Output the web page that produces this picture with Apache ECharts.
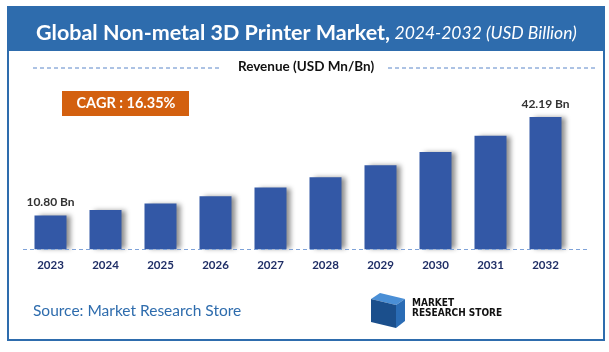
<!DOCTYPE html>
<html>
<head>
<meta charset="utf-8">
<script src="https://cdn.jsdelivr.net/npm/echarts@6/dist/echarts.min.js"></script>
<style>
  html, body { margin: 0; padding: 0; background: #fff; }
  #main { width: 609px; height: 352px; }
</style>
</head>
<body>
<div id="main"></div>
<script>
var years = ['2023', '2024', '2025', '2026', '2027', '2028', '2029', '2030', '2031', '2032'];
var revenue = [10.80, 12.57, 14.60, 16.95, 19.70, 23.00, 26.80, 31.05, 36.20, 42.19];
var labelled = [0, 9];

(function () {
    // 柱状图
    var chartDom = document.getElementById('main');
    var myChart = echarts.init(chartDom);
    var option;

    option = {
        backgroundColor: '#ffffff',
        textStyle: { fontFamily: 'Lato' },
        title: {
            text: '{b|Global Non-metal 3D Printer Market,} {i|2024-2032 (USD Billion)}',
            left: 31,
            top: 17,
            textStyle: {
                rich: {
                    b: { fontFamily: 'Lato', fontWeight: 'bold', fontSize: 21.5, color: '#ffffff' },
                    i: { fontFamily: 'Lato', fontWeight: 'normal', fontStyle: 'italic', fontSize: 17.5, color: '#ffffff' }
                }
            }
        },
        grid: {
            left: 23,
            right: 36,
            top: 92.5,
            bottom: 102.7
        },
        xAxis: {
            type: 'category',
            data: years,
            axisLine: { show: false },
            axisTick: { show: false },
            axisLabel: {
                margin: 10,
                color: '#1f2e66',
                fontWeight: 'bold',
                fontSize: 11.5
            }
        },
        yAxis: {
            type: 'value',
            min: 0,
            max: 50,
            show: false,
            splitLine: { show: false }
        },
        series: [
            {
                type: 'bar',
                barWidth: 32,
                data: revenue.map(function (v, i) {
                    return {
                        value: v,
                        label: {
                            show: labelled.indexOf(i) >= 0,
                            position: 'top',
                            distance: 7,
                            formatter: function (p) { return p.value.toFixed(2) + ' Bn'; },
                            color: '#333333',
                            fontWeight: 'bold',
                            fontSize: 12
                        }
                    };
                }),
                itemStyle: {
                    color: '#3358a6',
                    shadowColor: 'rgba(0,0,0,0.45)',
                    shadowBlur: 5,
                    shadowOffsetX: 4,
                    shadowOffsetY: 0
                }
            }
        ],
        graphic: [
            // 外框
            { type: 'rect', z: -10, shape: { x: 8, y: 7, width: 596, height: 333 },
              style: { fill: '#ffffff', stroke: '#2e6cad', lineWidth: 2 } },
            { type: 'rect', z: -9, shape: { x: 8, y: 7, width: 596, height: 44 },
              style: { fill: '#2e6cad' } },
            // 副标题
            { type: 'text', x: 306, y: 67,
              style: { text: 'Revenue (USD Mn/Bn)', align: 'center', verticalAlign: 'middle', fontFamily: 'Lato', fontWeight: 'bold', fontSize: 13.5, fill: '#111111' } },
            { type: 'line', shape: { x1: 33, y1: 68, x2: 222, y2: 68 },
              style: { stroke: '#5b86c9', lineWidth: 1, lineDash: [4, 3] } },
            { type: 'line', shape: { x1: 388, y1: 68, x2: 596, y2: 68 },
              style: { stroke: '#5b86c9', lineWidth: 1, lineDash: [4, 3] } },
            // CAGR
            { type: 'rect', shape: { x: 62, y: 91, width: 127, height: 25 },
              style: { fill: '#d3600f' } },
            { type: 'text', x: 126, y: 103.5,
              style: { text: 'CAGR : 16.35%', align: 'center', verticalAlign: 'middle', fontFamily: 'Lato', fontWeight: 'bold', fontSize: 14.5, fill: '#ffffff' } },
            // 基线
            { type: 'line', z: 5, shape: { x1: 23, y1: 249.5, x2: 588, y2: 249.5 },
              style: { stroke: '#7ea2d8', lineWidth: 1, lineDash: [4, 3] } },
            // 来源
            { type: 'text', x: 33, y: 311,
              style: { text: 'Source: Market Research Store', verticalAlign: 'middle', fontFamily: 'Lato', fontSize: 15.5, fill: '#2e6cad' } },
            // logo
            { type: 'polygon', shape: { points: [[380, 293], [405, 299], [396, 305], [371, 299]] },
              style: { fill: '#4a8fd6' } },
            { type: 'polygon', shape: { points: [[371, 299], [396, 305], [396, 328], [371, 322]] },
              style: { fill: '#1b4f8c' } },
            { type: 'polygon', shape: { points: [[396, 305], [405, 299], [405, 321], [396, 328]] },
              style: { fill: '#2a6cb5' } },
            { type: 'text', x: 412, y: 298,
              style: { text: 'MARKET\nRESEARCH STORE', fontFamily: 'DejaVu Sans Condensed', fontWeight: 'bold', fontSize: 10, lineHeight: 10, fill: '#111111' } }
        ]
    };

    option && myChart.setOption(option);
})();
</script>
</body>
</html>
